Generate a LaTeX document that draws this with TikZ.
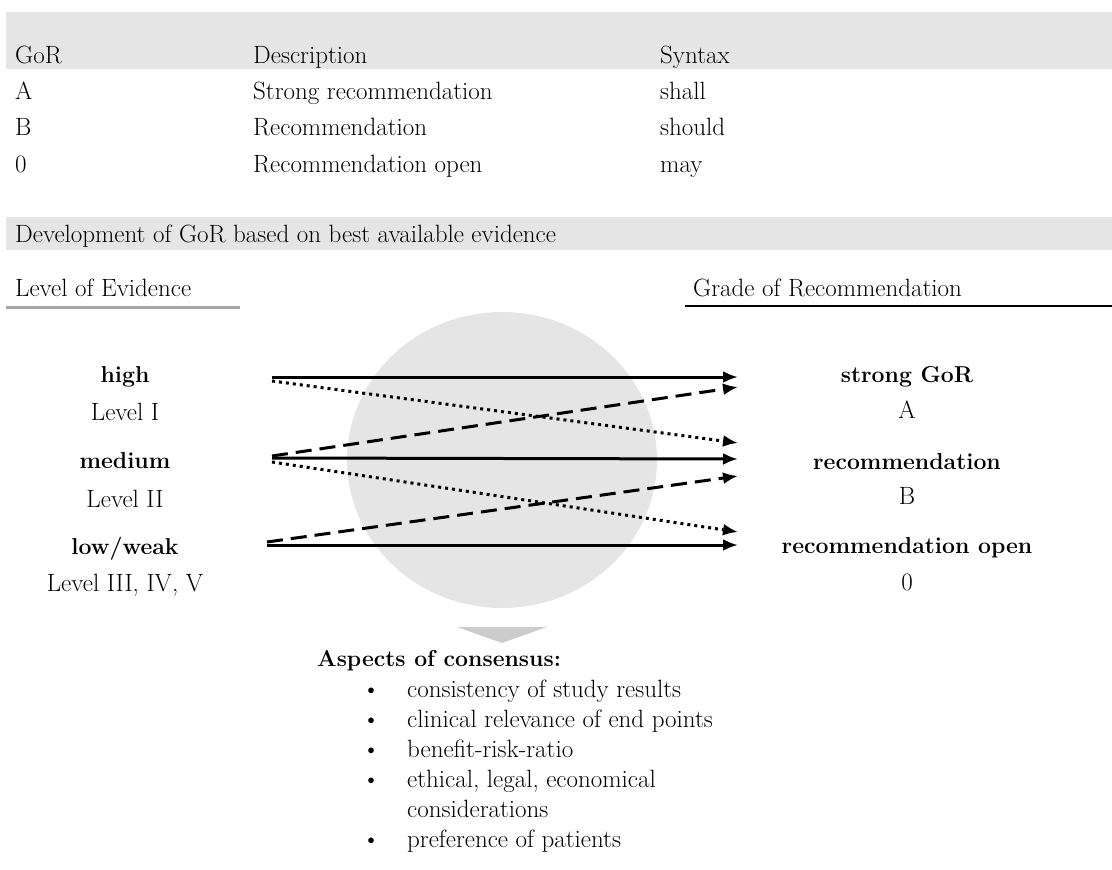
\documentclass[tikz,border=0pt]{standalone}
\usetikzlibrary{arrows.meta,positioning}
\begin{document}
\begin{tikzpicture}[x=1pt,y=-1pt,>={Latex[length=15pt,width=12pt]},
txt/.style={font=\fontsize{25}{30}\selectfont,inner sep=0pt,anchor=base west},
ctr/.style={font=\fontsize{25}{30}\selectfont,inner sep=0pt,anchor=base},
bld/.style={font=\fontsize{23}{28}\selectfont\bfseries,inner sep=0pt,anchor=base},
band/.style={fill=gray!20},
sol/.style={line width=3pt,->},
dot/.style={line width=3pt,dash pattern=on 3pt off 4pt,->},
dsh/.style={line width=3pt,dash pattern=on 16pt off 8pt,->}]
\useasboundingbox (0,0) rectangle (1112,870);
% table
\fill[band] (6,12) rectangle (1112,69);
\node[txt] (gor) at (15,63) {GoR};
\node[txt] (desc) at (253,63) {Description};
\node[txt] (syn) at (660,63) {Syntax};
\node[txt] (rA) at (15,99) {A};
\node[txt] (dA) at (253,99) {Strong recommendation};
\node[txt] (sA) at (660,99) {shall};
\node[txt] (rB) at (15,135) {B};
\node[txt] (dB) at (253,135) {Recommendation};
\node[txt] (sB) at (660,135) {should};
\node[txt] (r0) at (15,172) {0};
\node[txt] (d0) at (253,172) {Recommendation open};
\node[txt] (s0) at (660,172) {may};
% development
\fill[band] (6,217) rectangle (1112,250);
\node[txt] (dev) at (15,242) {Development of GoR based on best available evidence};
\node[txt] (loe) at (15,296) {Level of Evidence};
\draw[gray!70,line width=3pt] (6,307) -- (240,307);
\node[txt] (gra) at (693,296) {Grade of Recommendation};
\draw[line width=2pt] (685,306) -- (1112,306);
\fill[gray!20] (502,460) ellipse [x radius=155,y radius=148];
% levels
\node[bld] (high) at (125,382) {high};
\node[ctr] (l1) at (125,420) {Level I};
\node[bld] (med) at (125,468) {medium};
\node[ctr] (l2) at (125,507) {Level II};
\node[bld] (low) at (125,554) {low/weak};
\node[ctr] (l3) at (125,591) {Level III, IV, V};
% grades
\node[bld] (strong) at (907,382) {strong GoR};
\node[ctr] (gA) at (907,418) {A};
\node[bld] (rec) at (907,469) {recommendation};
\node[ctr] (gB) at (907,504) {B};
\node[bld] (open) at (907,553) {recommendation open};
\node[ctr] (g0) at (907,590) {0};
% arrows
\coordinate (hiA) at (272,377);
\coordinate (hiB) at (272,381);
\coordinate (meA) at (272,458);
\coordinate (meB) at (272,462);
\coordinate (meC) at (272,456);
\coordinate (loA) at (267,545);
\coordinate (loC) at (267,542);
\coordinate (aA) at (738,377);
\coordinate (aC) at (738,387);
\coordinate (bB) at (738,443);
\coordinate (bA) at (738,459);
\coordinate (bC) at (738,476);
\coordinate (cB) at (738,532);
\coordinate (cA) at (738,545);
\draw[sol] (hiA) -- (aA);
\draw[dot] (hiB) -- (bB);
\draw[dsh] (meC) -- (aC);
\draw[sol] (meA) -- (bA);
\draw[dot] (meB) -- (cB);
\draw[dsh] (loC) -- (bC);
\draw[sol] (loA) -- (cA);
% consensus
\fill[gray!40] (457,627) -- (547,627) -- (502,643) -- cycle;
\node[txt,font=\fontsize{23}{28}\selectfont\bfseries] (asp) at (317,666) {Aspects of consensus:};
\node[ctr] (b1) at (371,697) {\textbullet};
\node[txt] (i1) at (407,697) {consistency of study results};
\node[ctr] (b2) at (371,727) {\textbullet};
\node[txt] (i2) at (407,727) {clinical relevance of end points};
\node[ctr] (b3) at (371,757) {\textbullet};
\node[txt] (i3) at (407,757) {benefit-risk-ratio};
\node[ctr] (b4) at (371,787) {\textbullet};
\node[txt] (i4) at (407,787) {ethical, legal, economical};
\node[txt] (i4b) at (407,817) {considerations};
\node[ctr] (b5) at (371,847) {\textbullet};
\node[txt] (i5) at (407,847) {preference of patients};
\end{tikzpicture}
\end{document}
